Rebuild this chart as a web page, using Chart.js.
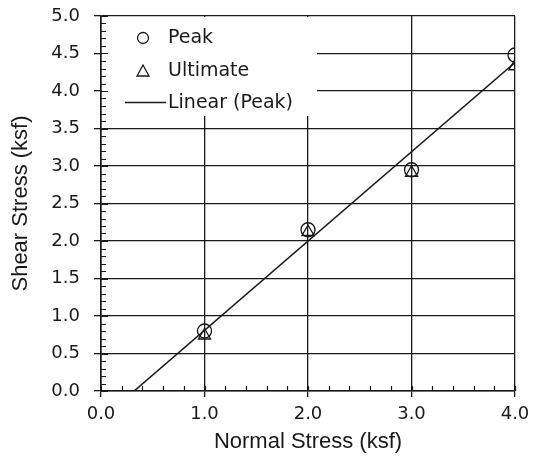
<!DOCTYPE html>
<html>
<head>
<meta charset="utf-8">
<script src="https://cdn.jsdelivr.net/npm/chart.js@4/dist/chart.umd.min.js"></script>
<style>
  html, body { margin: 0; padding: 0; background: #fff; }
  #wrap { width: 533px; height: 456px; position: relative; }
</style>
</head>
<body>
<div id="wrap"><canvas id="chart"></canvas></div>
<script>
// ── Data ──────────────────────────────────────────────────
const normalStress  = [1.0, 2.0, 3.0, 4.0];
const peakShear     = [0.80, 2.15, 2.95, 4.48];
const ultimateShear = [0.74, 2.12, 2.91, 4.33];
// linear fit through peak points (end points)
const fitStress = [0.32, 4.0];
const fitShear  = [0.0, 4.38];

const xTickValues = [0.0, 1.0, 2.0, 3.0, 4.0];
const yTickValues = [0.0, 0.5, 1.0, 1.5, 2.0, 2.5, 3.0, 3.5, 4.0, 4.5, 5.0];

const INK = '#1a1a1a';
const TICK_FONT  = { family: 'DejaVu Sans', size: 18 };
const TITLE_FONT = { family: 'Liberation Sans', size: 22 };
const LEGEND_FONT = '19px "DejaVu Sans"';

const toPts = (xs, ys) => xs.map((x, i) => ({ x, y: ys[i] }));

// ── Plugin: legend box, minor ticks ───────────────────────
const decor = {
  id: 'decor',
  beforeDatasetsDraw(chart) {
    const { ctx, chartArea: a, scales: { x, y } } = chart;
    ctx.save();

    // white legend area covering the grid in the top-left corner
    ctx.fillStyle = '#fff';
    ctx.fillRect(a.left + 1, a.top + 1, 316 - a.left, 115 - a.top);

    ctx.strokeStyle = INK;
    ctx.lineWidth = 1.2;
    ctx.beginPath();
    // y minor ticks (inward) every 0.1
    for (let i = 0; i <= 50; i++) {
      const py = Math.round(y.getPixelForValue(i / 10)) + 0.5;
      ctx.moveTo(a.left, py);
      ctx.lineTo(a.left + (i % 5 === 0 ? 7 : 5), py);
    }
    // x minor ticks (inward) every 0.2
    for (let i = 0; i <= 20; i++) {
      const px = Math.round(x.getPixelForValue(i / 5)) + 0.5;
      ctx.moveTo(px, a.bottom);
      ctx.lineTo(px, a.bottom - 5);
    }
    ctx.stroke();

    // legend
    ctx.font = LEGEND_FONT;
    ctx.fillStyle = INK;
    ctx.textBaseline = 'middle';
    ctx.textAlign = 'left';
    ctx.lineWidth = 1.3;

    ctx.beginPath();
    ctx.arc(143, 38, 5.5, 0, Math.PI * 2);
    ctx.stroke();
    ctx.fillText('Peak', 168, 38);

    ctx.beginPath();
    ctx.moveTo(143, 65);
    ctx.lineTo(149, 76);
    ctx.lineTo(137, 76);
    ctx.closePath();
    ctx.stroke();
    ctx.fillText('Ultimate', 168, 71);

    ctx.beginPath();
    ctx.moveTo(125, 102.5);
    ctx.lineTo(166, 102.5);
    ctx.stroke();
    ctx.fillText('Linear (Peak)', 168, 103);

    ctx.restore();
  }
};

// ── Chart ─────────────────────────────────────────────────
new Chart(document.getElementById('chart'), {
  type: 'scatter',
  data: {
    datasets: [
      {
        label: 'Peak',
        data: toPts(normalStress, peakShear),
        pointStyle: 'circle',
        pointRadius: 7,
        pointBorderWidth: 1.3,
        borderColor: INK,
        backgroundColor: 'rgba(0,0,0,0)',
        order: 1
      },
      {
        label: 'Ultimate',
        data: toPts(normalStress, ultimateShear),
        pointStyle: 'triangle',
        pointRadius: 7,
        pointBorderWidth: 1.3,
        borderColor: INK,
        backgroundColor: 'rgba(0,0,0,0)',
        order: 2
      },
      {
        label: 'Linear (Peak)',
        type: 'line',
        data: toPts(fitStress, fitShear),
        showLine: true,
        pointRadius: 0,
        borderWidth: 1.6,
        borderColor: INK,
        fill: false,
        order: 3
      }
    ]
  },
  options: {
    responsive: true,
    maintainAspectRatio: false,
    animation: false,
    layout: { padding: { top: 16, right: 18, left: 0, bottom: 0 } },
    plugins: { legend: { display: false }, tooltip: { enabled: false } },
    scales: {
      x: {
        type: 'linear',
        min: 0, max: 4,
        afterBuildTicks: s => { s.ticks = xTickValues.map(v => ({ value: v })); },
        afterFit: s => { s.height = 65; s.paddingLeft = 0; s.paddingRight = 0; },
        grid: { color: INK, lineWidth: 1.3, tickLength: 6, drawTicks: true },
        border: { color: INK, width: 1.6 },
        ticks: { color: INK, font: TICK_FONT, padding: 7, maxRotation: 0, callback: v => v.toFixed(1) },
        title: { display: true, text: 'Normal Stress (ksf)', color: INK, font: TITLE_FONT, padding: { top: 0, bottom: 1 } }
      },
      y: {
        type: 'linear',
        min: 0, max: 5,
        afterBuildTicks: s => { s.ticks = yTickValues.map(v => ({ value: v })); },
        afterFit: s => { s.width = 101; s.paddingTop = 0; s.paddingBottom = 0; },
        grid: { color: INK, lineWidth: 1.3, tickLength: 7 },
        border: { color: INK, width: 1.6 },
        ticks: { color: INK, font: TICK_FONT, padding: 14, callback: v => v.toFixed(1) },
        title: { display: true, text: 'Shear Stress (ksf)', color: INK, font: TITLE_FONT, padding: { top: 8, bottom: 0 } }
      }
    }
  },
  plugins: [decor]
});
</script>
</body>
</html>
